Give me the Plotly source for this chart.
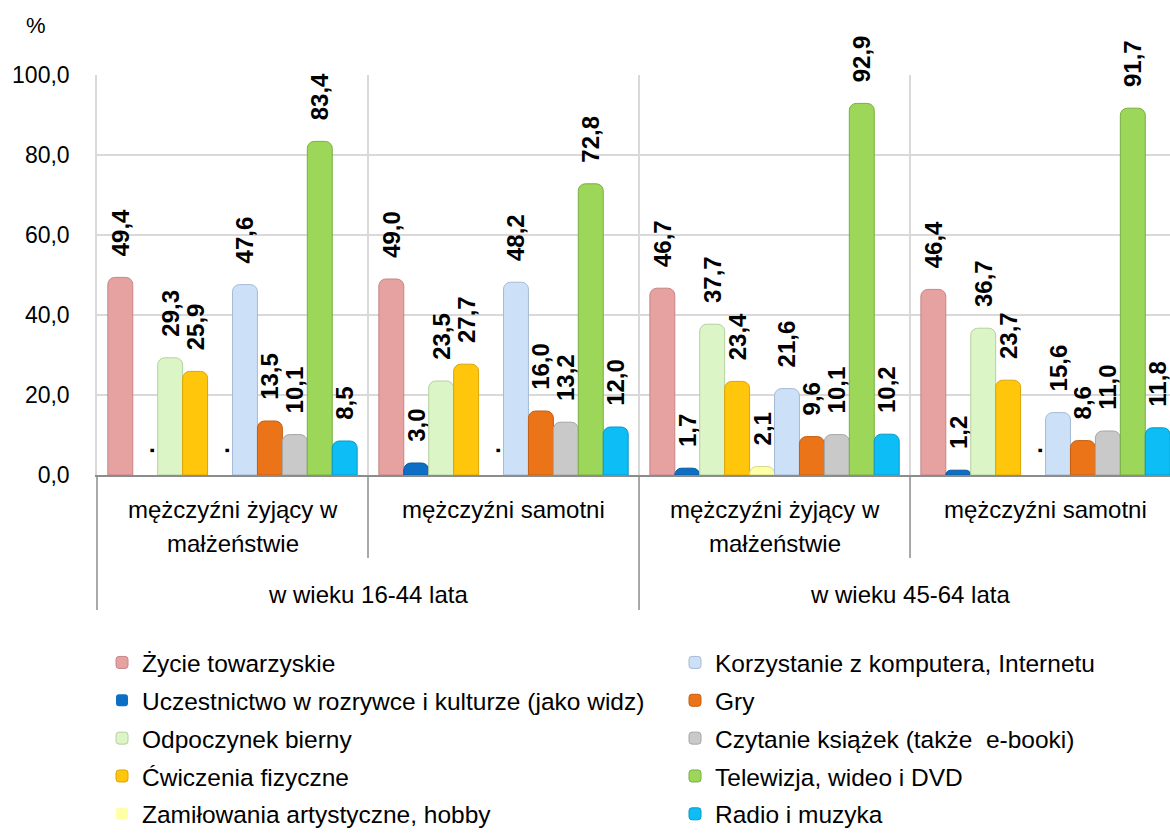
import plotly.graph_objects as go

# ---------------- data ----------------
age_groups = ["w wieku 16-44 lata", "w wieku 45-64 lata"]
age_group_members = [[0, 1], [2, 3]]
household_lines = [
    ["mężczyźni żyjący w", "małżeństwie"],
    ["mężczyźni samotni"],
    ["mężczyźni żyjący w", "małżeństwie"],
    ["mężczyźni samotni"],
]

series_names = [
    "Życie towarzyskie",
    "Uczestnictwo w rozrywce i kulturze (jako widz)",
    "Odpoczynek bierny",
    "Ćwiczenia fizyczne",
    "Zamiłowania artystyczne, hobby",
    "Korzystanie z komputera, Internetu",
    "Gry",
    "Czytanie książek (także  e-booki)",
    "Telewizja, wideo i DVD",
    "Radio i muzyka",
]

zycie_towarzyskie = [49.4, 49.0, 46.7, 46.4]
uczestnictwo = [None, 3.0, 1.7, 1.2]
odpoczynek = [29.3, 23.5, 37.7, 36.7]
cwiczenia = [25.9, 27.7, 23.4, 23.7]
zamilowania = [None, None, 2.1, None]
komputer = [47.6, 48.2, 21.6, 15.6]
gry = [13.5, 16.0, 9.6, 8.6]
czytanie = [10.1, 13.2, 10.1, 11.0]
telewizja = [83.4, 72.8, 92.9, 91.7]
radio = [8.5, 12.0, 10.2, 11.8]

series_values = [zycie_towarzyskie, uczestnictwo, odpoczynek, cwiczenia, zamilowania,
                 komputer, gry, czytanie, telewizja, radio]

y_ticks = [0, 20, 40, 60, 80, 100]

# ---------------- style ----------------
colors = ["#E6A1A1", "#0C6EC4", "#DCF5C6", "#FFC60C", "#FFFFA8",
          "#CCE0F7", "#EC7418", "#C9C9C9", "#9DD75A", "#0CBEF5"]
edges = ["#C68585", "#0A589E", "#B5D09E", "#DCA400", "#D6D684",
         "#A6BAD4", "#C45E10", "#A6A6A6", "#78AE40", "#0898C6"]
FONT = "Liberation Sans, Arial, sans-serif"
GRID = "#D9D9D9"
DARK = "#8C8C8C"

L, T, PLOT_W, PLOT_H = 97, 75, 1073, 400
def py(px):  # pixel y -> paper y
    return (T + PLOT_H - px) / PLOT_H
def pxx(px):  # pixel x -> paper x
    return (px - L) / PLOT_W

x_pos = list(range(len(household_lines)))

fig = go.Figure()
for i, (name, vals) in enumerate(zip(series_names, series_values)):
    ys = [v if v is not None else 0 for v in vals]
    labels = ["\u00a0\u00a0\u2009" + (f"{v:.1f}".replace(".", ",") if v is not None else ".")
              for v in vals]
    fig.add_trace(go.Bar(
        x=x_pos, y=ys, name=name, text=labels,
        textposition="outside", textangle=-90, cliponaxis=False, constraintext="none",
        textfont=dict(family=FONT, size=24, color="black", weight="bold"),
        marker=dict(color=colors[i],
                    line=dict(color=edges[i], width=[1 if v is not None else 0 for v in vals])),
        legend="legend" if i < 5 else "legend2",
        legendgroup=name,
    ))

n = len(x_pos)
shapes = [dict(type="line", xref="paper", yref="paper", x0=0, x1=0, y0=0, y1=py(610),
               line=dict(color=DARK, width=1.5))]
for b in range(1, n):
    bx = b - 0.5
    outer = any(b == grp[0] for grp in age_group_members)
    shapes.append(dict(type="line", xref="x", yref="paper", x0=bx, x1=bx, y0=0,
                       y1=py(610) if outer else py(558),
                       line=dict(color=DARK, width=1.5)))

annotations = [dict(text="%", xref="paper", yref="paper", x=pxx(36), y=py(25),
                    showarrow=False, font=dict(size=22), xanchor="center", yanchor="middle")]
for i, lines in enumerate(household_lines):
    for j, line in enumerate(lines):
        annotations.append(dict(text=line, xref="x", yref="paper", x=x_pos[i], y=py(510 + 33 * j),
                                showarrow=False, xanchor="center", yanchor="middle"))
for g, members in zip(age_groups, age_group_members):
    annotations.append(dict(text=g, xref="x", yref="paper",
                            x=sum(x_pos[m] for m in members) / len(members), y=py(594),
                            showarrow=False, xanchor="center", yanchor="middle"))

legend_common = dict(yanchor="top", xanchor="left", orientation="v", tracegroupgap=3,
                     font=dict(size=24.5), bgcolor="rgba(0,0,0,0)")

fig.update_layout(
    width=1170, height=834,
    margin=dict(l=L, r=1170 - L - PLOT_W, t=T, b=834 - T - PLOT_H, autoexpand=False),
    barmode="group", bargap=0.08, bargroupgap=0, barcornerradius=7,
    plot_bgcolor="white", paper_bgcolor="white",
    separators=",.",
    font=dict(family=FONT, size=24, color="black"),
    shapes=shapes, annotations=annotations,
    legend=dict(x=pxx(102), y=py(640), **legend_common),
    legend2=dict(x=pxx(675), y=py(640), **legend_common),
    xaxis=dict(range=[-0.5, n - 0.5 - 11 / 270], tickmode="array",
               tickvals=[b - 0.5 for b in range(1, n)], showticklabels=False,
               showgrid=True, gridcolor=GRID, gridwidth=1.5, zeroline=False,
               showline=True, linecolor=DARK, linewidth=1.5, ticks=""),
    yaxis=dict(range=[0, 100], tickmode="array", tickvals=y_ticks, tickformat=".1f",
               showgrid=True, gridcolor=GRID, gridwidth=1.5, zeroline=False,
               showline=True, linecolor=GRID, linewidth=1.5, ticks="",
               ticklabelstandoff=21, tickfont=dict(size=23)),
)

fig.write_html("out.html", config={"displayModeBar": False},
               post_script="document.body.style.margin='0';")
